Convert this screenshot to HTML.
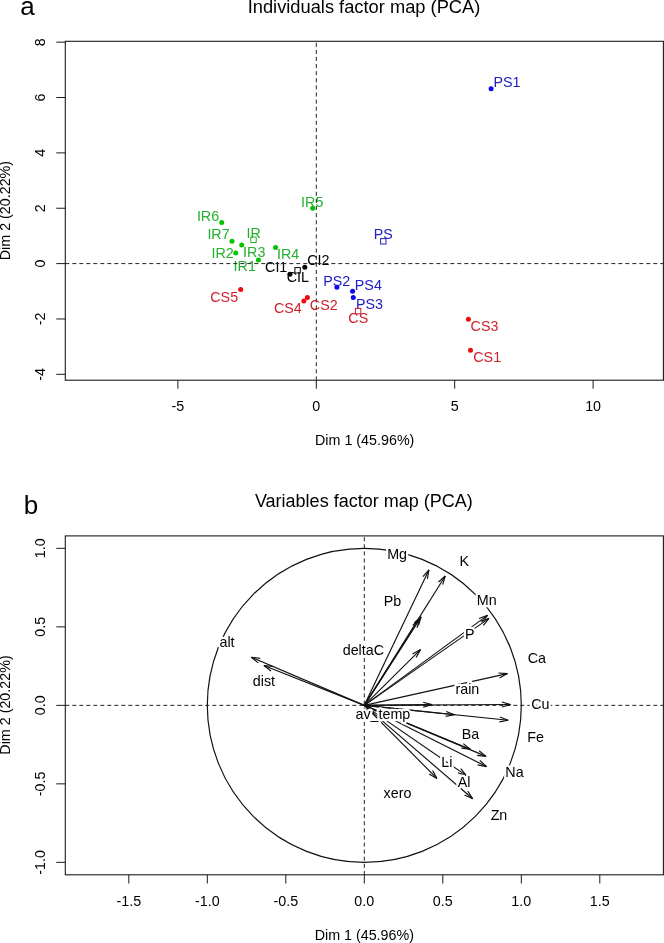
<!DOCTYPE html>
<html><head><meta charset="utf-8"><style>
html,body{margin:0;padding:0;background:#fff;width:664px;height:943px;overflow:hidden}
svg{display:block;will-change:transform;font-family:"Liberation Sans",sans-serif}
.h{paint-order:stroke;stroke:#fff;stroke-width:4.5px;stroke-linejoin:round}
</style></head><body>
<svg width="664" height="943" viewBox="0 0 664 943">
<rect width="664" height="943" fill="#fff"/>
<text x="20.30" y="14.90" fill="#000" font-size="26">a</text>
<text x="364" y="12.8" font-size="18.3" text-anchor="middle" fill="#000">Individuals factor map (PCA)</text>
<line x1="56.30" y1="42.16" x2="65.30" y2="42.16" stroke="#1a1a1a" stroke-width="1"/>
<text transform="translate(45.2 42.16) rotate(-90)" text-anchor="middle" font-size="14.3" fill="#000">8</text>
<line x1="56.30" y1="97.52" x2="65.30" y2="97.52" stroke="#1a1a1a" stroke-width="1"/>
<text transform="translate(45.2 97.52) rotate(-90)" text-anchor="middle" font-size="14.3" fill="#000">6</text>
<line x1="56.30" y1="152.88" x2="65.30" y2="152.88" stroke="#1a1a1a" stroke-width="1"/>
<text transform="translate(45.2 152.88) rotate(-90)" text-anchor="middle" font-size="14.3" fill="#000">4</text>
<line x1="56.30" y1="208.24" x2="65.30" y2="208.24" stroke="#1a1a1a" stroke-width="1"/>
<text transform="translate(45.2 208.24) rotate(-90)" text-anchor="middle" font-size="14.3" fill="#000">2</text>
<line x1="56.30" y1="263.60" x2="65.30" y2="263.60" stroke="#1a1a1a" stroke-width="1"/>
<text transform="translate(45.2 263.60) rotate(-90)" text-anchor="middle" font-size="14.3" fill="#000">0</text>
<line x1="56.30" y1="318.96" x2="65.30" y2="318.96" stroke="#1a1a1a" stroke-width="1"/>
<text transform="translate(45.2 318.96) rotate(-90)" text-anchor="middle" font-size="14.3" fill="#000">-2</text>
<line x1="56.30" y1="374.32" x2="65.30" y2="374.32" stroke="#1a1a1a" stroke-width="1"/>
<text transform="translate(45.2 374.32) rotate(-90)" text-anchor="middle" font-size="14.3" fill="#000">-4</text>
<line x1="177.90" y1="380.20" x2="177.90" y2="388.70" stroke="#1a1a1a" stroke-width="1"/>
<text x="177.90" y="411.2" text-anchor="middle" font-size="14.3" fill="#000">-5</text>
<line x1="316.30" y1="380.20" x2="316.30" y2="388.70" stroke="#1a1a1a" stroke-width="1"/>
<text x="316.30" y="411.2" text-anchor="middle" font-size="14.3" fill="#000">0</text>
<line x1="454.70" y1="380.20" x2="454.70" y2="388.70" stroke="#1a1a1a" stroke-width="1"/>
<text x="454.70" y="411.2" text-anchor="middle" font-size="14.3" fill="#000">5</text>
<line x1="593.10" y1="380.20" x2="593.10" y2="388.70" stroke="#1a1a1a" stroke-width="1"/>
<text x="593.10" y="411.2" text-anchor="middle" font-size="14.3" fill="#000">10</text>
<text x="364.7" y="444.9" text-anchor="middle" font-size="14.3" fill="#000">Dim 1 (45.96%)</text>
<text transform="translate(10.2 210.6) rotate(-90)" text-anchor="middle" font-size="14.3" fill="#000">Dim 2 (20.22%)</text>
<circle cx="221.7" cy="222.5" r="2.5" fill="#00c400"/>
<text x="196.88" y="220.70" fill="#23b030" font-size="14.3">IR6</text>
<circle cx="232.0" cy="241.3" r="2.5" fill="#00c400"/>
<text x="207.38" y="239.40" fill="#23b030" font-size="14.3">IR7</text>
<circle cx="241.7" cy="245.0" r="2.5" fill="#00c400"/>
<text x="243.08" y="256.80" fill="#23b030" font-size="14.3">IR3</text>
<circle cx="235.7" cy="252.9" r="2.5" fill="#00c400"/>
<text x="211.48" y="257.90" fill="#23b030" font-size="14.3">IR2</text>
<circle cx="258.4" cy="260.1" r="2.5" fill="#00c400"/>
<text x="233.58" y="271.40" fill="#23b030" font-size="14.3">IR1</text>
<circle cx="275.6" cy="247.6" r="2.5" fill="#00c400"/>
<text x="276.98" y="258.60" fill="#23b030" font-size="14.3">IR4</text>
<circle cx="312.7" cy="208.2" r="2.5" fill="#00c400"/>
<text x="301.08" y="206.50" fill="#23b030" font-size="14.3">IR5</text>
<rect x="250.80" y="237.10" width="5.4" height="5.4" fill="none" stroke="#23b030" stroke-width="1"/>
<text x="246.58" y="238.00" fill="#23b030" font-size="14.3">IR</text>
<circle cx="289.9" cy="274.3" r="2.5" fill="#000"/>
<text x="265.07" y="272.10" fill="#000" font-size="14.3">CI1</text>
<circle cx="304.8" cy="267.3" r="2.5" fill="#000"/>
<text x="307.27" y="265.20" fill="#000" font-size="14.3">CI2</text>
<rect x="294.90" y="267.60" width="5.4" height="5.4" fill="none" stroke="#000" stroke-width="1"/>
<text x="286.77" y="282.30" fill="#000" font-size="14.3">CIL</text>
<circle cx="491.1" cy="88.7" r="2.5" fill="#0a0ae6"/>
<text x="493.53" y="87.30" fill="#2020c6" font-size="14.3">PS1</text>
<circle cx="336.9" cy="287.3" r="2.5" fill="#0a0ae6"/>
<text x="323.23" y="285.50" fill="#2020c6" font-size="14.3">PS2</text>
<circle cx="352.6" cy="291.3" r="2.5" fill="#0a0ae6"/>
<text x="354.83" y="289.70" fill="#2020c6" font-size="14.3">PS4</text>
<circle cx="353.3" cy="297.5" r="2.5" fill="#0a0ae6"/>
<text x="356.03" y="309.30" fill="#2020c6" font-size="14.3">PS3</text>
<rect x="380.60" y="238.60" width="5.4" height="5.4" fill="none" stroke="#2020c6" stroke-width="1"/>
<text x="373.63" y="239.30" fill="#2020c6" font-size="14.3">PS</text>
<circle cx="240.7" cy="289.5" r="2.5" fill="#ee0a0a"/>
<text x="210.27" y="301.70" fill="#cf1f2b" font-size="14.3">CS5</text>
<circle cx="307.4" cy="297.6" r="2.5" fill="#ee0a0a"/>
<text x="309.87" y="309.80" fill="#cf1f2b" font-size="14.3">CS2</text>
<circle cx="303.9" cy="301.1" r="2.5" fill="#ee0a0a"/>
<text x="273.97" y="312.70" fill="#cf1f2b" font-size="14.3">CS4</text>
<circle cx="468.4" cy="319.3" r="2.5" fill="#ee0a0a"/>
<text x="470.57" y="331.00" fill="#cf1f2b" font-size="14.3">CS3</text>
<circle cx="470.5" cy="350.2" r="2.5" fill="#ee0a0a"/>
<text x="473.27" y="361.90" fill="#cf1f2b" font-size="14.3">CS1</text>
<rect x="355.40" y="308.40" width="5.4" height="5.4" fill="none" stroke="#cf1f2b" stroke-width="1"/>
<text x="348.37" y="322.80" fill="#cf1f2b" font-size="14.3">CS</text>
<line x1="65.30" y1="263.60" x2="663.40" y2="263.60" stroke="#222" stroke-width="1" stroke-dasharray="4 3"/>
<line x1="316.30" y1="41.30" x2="316.30" y2="380.20" stroke="#222" stroke-width="1" stroke-dasharray="4.1 3.0" stroke-dashoffset="-1.4"/>
<rect x="65.3" y="41.3" width="598.10" height="338.90" fill="none" stroke="#1a1a1a" stroke-width="1.1"/>
<text x="23.72" y="514.40" fill="#000" font-size="26">b</text>
<text x="363.8" y="506.7" font-size="18" text-anchor="middle" fill="#000">Variables factor map (PCA)</text>
<line x1="56.30" y1="548.35" x2="65.30" y2="548.35" stroke="#1a1a1a" stroke-width="1"/>
<text transform="translate(45.2 548.35) rotate(-90)" text-anchor="middle" font-size="14.3" fill="#000">1.0</text>
<line x1="56.30" y1="626.85" x2="65.30" y2="626.85" stroke="#1a1a1a" stroke-width="1"/>
<text transform="translate(45.2 626.85) rotate(-90)" text-anchor="middle" font-size="14.3" fill="#000">0.5</text>
<line x1="56.30" y1="705.35" x2="65.30" y2="705.35" stroke="#1a1a1a" stroke-width="1"/>
<text transform="translate(45.2 705.35) rotate(-90)" text-anchor="middle" font-size="14.3" fill="#000">0.0</text>
<line x1="56.30" y1="783.85" x2="65.30" y2="783.85" stroke="#1a1a1a" stroke-width="1"/>
<text transform="translate(45.2 783.85) rotate(-90)" text-anchor="middle" font-size="14.3" fill="#000">-0.5</text>
<line x1="56.30" y1="862.35" x2="65.30" y2="862.35" stroke="#1a1a1a" stroke-width="1"/>
<text transform="translate(45.2 862.35) rotate(-90)" text-anchor="middle" font-size="14.3" fill="#000">-1.0</text>
<line x1="128.80" y1="874.80" x2="128.80" y2="883.50" stroke="#1a1a1a" stroke-width="1"/>
<text x="128.80" y="905.5" text-anchor="middle" font-size="14.3" fill="#000">-1.5</text>
<line x1="207.30" y1="874.80" x2="207.30" y2="883.50" stroke="#1a1a1a" stroke-width="1"/>
<text x="207.30" y="905.5" text-anchor="middle" font-size="14.3" fill="#000">-1.0</text>
<line x1="285.80" y1="874.80" x2="285.80" y2="883.50" stroke="#1a1a1a" stroke-width="1"/>
<text x="285.80" y="905.5" text-anchor="middle" font-size="14.3" fill="#000">-0.5</text>
<line x1="364.30" y1="874.80" x2="364.30" y2="883.50" stroke="#1a1a1a" stroke-width="1"/>
<text x="364.30" y="905.5" text-anchor="middle" font-size="14.3" fill="#000">0.0</text>
<line x1="442.80" y1="874.80" x2="442.80" y2="883.50" stroke="#1a1a1a" stroke-width="1"/>
<text x="442.80" y="905.5" text-anchor="middle" font-size="14.3" fill="#000">0.5</text>
<line x1="521.30" y1="874.80" x2="521.30" y2="883.50" stroke="#1a1a1a" stroke-width="1"/>
<text x="521.30" y="905.5" text-anchor="middle" font-size="14.3" fill="#000">1.0</text>
<line x1="599.80" y1="874.80" x2="599.80" y2="883.50" stroke="#1a1a1a" stroke-width="1"/>
<text x="599.80" y="905.5" text-anchor="middle" font-size="14.3" fill="#000">1.5</text>
<text x="364.3" y="939.6" text-anchor="middle" font-size="14.3" fill="#000">Dim 1 (45.96%)</text>
<text transform="translate(10.2 705.0) rotate(-90)" text-anchor="middle" font-size="14.3" fill="#000">Dim 2 (20.22%)</text>
<line x1="65.30" y1="705.35" x2="663.40" y2="705.35" stroke="#222" stroke-width="1" stroke-dasharray="4 3"/>
<line x1="364.30" y1="535.90" x2="364.30" y2="874.80" stroke="#222" stroke-width="1" stroke-dasharray="4.1 3.0" stroke-dashoffset="-1.3"/>
<circle cx="364.3" cy="705.35" r="157.0" fill="none" stroke="#111" stroke-width="1.2"/>
<line x1="364.30" y1="705.35" x2="428.90" y2="569.90" stroke="#111" stroke-width="1.15"/>
<line x1="428.90" y1="569.90" x2="422.94" y2="576.64" stroke="#111" stroke-width="1.15"/>
<line x1="428.90" y1="569.90" x2="427.41" y2="578.78" stroke="#111" stroke-width="1.15"/>
<line x1="364.30" y1="705.35" x2="445.20" y2="576.00" stroke="#111" stroke-width="1.15"/>
<line x1="445.20" y1="576.00" x2="438.51" y2="582.02" stroke="#111" stroke-width="1.15"/>
<line x1="445.20" y1="576.00" x2="442.72" y2="584.65" stroke="#111" stroke-width="1.15"/>
<line x1="364.30" y1="705.35" x2="421.10" y2="616.80" stroke="#111" stroke-width="1.15"/>
<line x1="421.10" y1="616.80" x2="414.34" y2="622.74" stroke="#111" stroke-width="1.15"/>
<line x1="421.10" y1="616.80" x2="418.52" y2="625.42" stroke="#111" stroke-width="1.15"/>
<line x1="364.30" y1="705.35" x2="419.60" y2="619.30" stroke="#111" stroke-width="1.15"/>
<line x1="419.60" y1="619.30" x2="412.84" y2="625.24" stroke="#111" stroke-width="1.15"/>
<line x1="419.60" y1="619.30" x2="417.01" y2="627.92" stroke="#111" stroke-width="1.15"/>
<line x1="364.30" y1="705.35" x2="420.50" y2="649.60" stroke="#111" stroke-width="1.15"/>
<line x1="420.50" y1="649.60" x2="412.61" y2="653.93" stroke="#111" stroke-width="1.15"/>
<line x1="420.50" y1="649.60" x2="416.11" y2="657.45" stroke="#111" stroke-width="1.15"/>
<line x1="364.30" y1="705.35" x2="487.50" y2="615.40" stroke="#111" stroke-width="1.15"/>
<line x1="487.50" y1="615.40" x2="479.05" y2="618.50" stroke="#111" stroke-width="1.15"/>
<line x1="487.50" y1="615.40" x2="481.98" y2="622.51" stroke="#111" stroke-width="1.15"/>
<line x1="364.30" y1="705.35" x2="489.00" y2="618.40" stroke="#111" stroke-width="1.15"/>
<line x1="489.00" y1="618.40" x2="480.48" y2="621.31" stroke="#111" stroke-width="1.15"/>
<line x1="489.00" y1="618.40" x2="483.32" y2="625.38" stroke="#111" stroke-width="1.15"/>
<line x1="364.30" y1="705.35" x2="507.40" y2="673.60" stroke="#111" stroke-width="1.15"/>
<line x1="507.40" y1="673.60" x2="498.42" y2="673.05" stroke="#111" stroke-width="1.15"/>
<line x1="507.40" y1="673.60" x2="499.49" y2="677.90" stroke="#111" stroke-width="1.15"/>
<line x1="364.30" y1="705.35" x2="431.80" y2="704.60" stroke="#111" stroke-width="1.15"/>
<line x1="431.80" y1="704.60" x2="423.12" y2="702.22" stroke="#111" stroke-width="1.15"/>
<line x1="431.80" y1="704.60" x2="423.18" y2="707.18" stroke="#111" stroke-width="1.15"/>
<line x1="364.30" y1="705.35" x2="510.60" y2="704.50" stroke="#111" stroke-width="1.15"/>
<line x1="510.60" y1="704.50" x2="501.93" y2="702.07" stroke="#111" stroke-width="1.15"/>
<line x1="510.60" y1="704.50" x2="501.96" y2="707.03" stroke="#111" stroke-width="1.15"/>
<line x1="364.30" y1="705.35" x2="454.50" y2="714.80" stroke="#111" stroke-width="1.15"/>
<line x1="454.50" y1="714.80" x2="446.15" y2="711.43" stroke="#111" stroke-width="1.15"/>
<line x1="454.50" y1="714.80" x2="445.64" y2="716.37" stroke="#111" stroke-width="1.15"/>
<line x1="364.30" y1="705.35" x2="508.20" y2="720.30" stroke="#111" stroke-width="1.15"/>
<line x1="508.20" y1="720.30" x2="499.85" y2="716.94" stroke="#111" stroke-width="1.15"/>
<line x1="508.20" y1="720.30" x2="499.34" y2="721.87" stroke="#111" stroke-width="1.15"/>
<line x1="364.30" y1="705.35" x2="470.30" y2="749.20" stroke="#111" stroke-width="1.15"/>
<line x1="470.30" y1="749.20" x2="463.25" y2="743.60" stroke="#111" stroke-width="1.15"/>
<line x1="470.30" y1="749.20" x2="461.36" y2="748.19" stroke="#111" stroke-width="1.15"/>
<line x1="364.30" y1="705.35" x2="486.10" y2="756.40" stroke="#111" stroke-width="1.15"/>
<line x1="486.10" y1="756.40" x2="479.08" y2="750.77" stroke="#111" stroke-width="1.15"/>
<line x1="486.10" y1="756.40" x2="477.16" y2="755.34" stroke="#111" stroke-width="1.15"/>
<line x1="364.30" y1="705.35" x2="486.50" y2="766.60" stroke="#111" stroke-width="1.15"/>
<line x1="486.50" y1="766.60" x2="479.88" y2="760.51" stroke="#111" stroke-width="1.15"/>
<line x1="486.50" y1="766.60" x2="477.65" y2="764.94" stroke="#111" stroke-width="1.15"/>
<line x1="364.30" y1="705.35" x2="466.40" y2="775.60" stroke="#111" stroke-width="1.15"/>
<line x1="466.40" y1="775.60" x2="460.68" y2="768.65" stroke="#111" stroke-width="1.15"/>
<line x1="466.40" y1="775.60" x2="457.87" y2="772.74" stroke="#111" stroke-width="1.15"/>
<line x1="364.30" y1="705.35" x2="436.90" y2="778.40" stroke="#111" stroke-width="1.15"/>
<line x1="436.90" y1="778.40" x2="432.56" y2="770.51" stroke="#111" stroke-width="1.15"/>
<line x1="436.90" y1="778.40" x2="429.04" y2="774.01" stroke="#111" stroke-width="1.15"/>
<line x1="364.30" y1="705.35" x2="472.70" y2="798.70" stroke="#111" stroke-width="1.15"/>
<line x1="472.70" y1="798.70" x2="467.76" y2="791.17" stroke="#111" stroke-width="1.15"/>
<line x1="472.70" y1="798.70" x2="464.53" y2="794.93" stroke="#111" stroke-width="1.15"/>
<line x1="364.30" y1="705.35" x2="251.30" y2="657.20" stroke="#111" stroke-width="1.15"/>
<line x1="251.30" y1="657.20" x2="258.29" y2="662.87" stroke="#111" stroke-width="1.15"/>
<line x1="251.30" y1="657.20" x2="260.23" y2="658.31" stroke="#111" stroke-width="1.15"/>
<line x1="364.30" y1="705.35" x2="263.90" y2="665.50" stroke="#111" stroke-width="1.15"/>
<line x1="263.90" y1="665.50" x2="271.03" y2="671.00" stroke="#111" stroke-width="1.15"/>
<line x1="263.90" y1="665.50" x2="272.86" y2="666.39" stroke="#111" stroke-width="1.15"/>
<line x1="364.30" y1="705.35" x2="373.50" y2="712.50" stroke="#111" stroke-width="1.15"/>
<line x1="373.50" y1="712.50" x2="368.19" y2="705.23" stroke="#111" stroke-width="1.15"/>
<line x1="373.50" y1="712.50" x2="365.15" y2="709.15" stroke="#111" stroke-width="1.15"/>
<text x="387.13" y="558.50" fill="#000" font-size="14.3" class="h">Mg</text>
<text x="459.43" y="565.70" fill="#000" font-size="14.3" class="h">K</text>
<text x="383.73" y="605.50" fill="#000" font-size="14.3" class="h">Pb</text>
<text x="476.83" y="605.10" fill="#000" font-size="14.3" class="h">Mn</text>
<text x="464.93" y="639.40" fill="#000" font-size="14.3" class="h">P</text>
<text x="342.70" y="654.50" fill="#000" font-size="14.3" class="h">deltaC</text>
<text x="527.77" y="663.00" fill="#000" font-size="14.3" class="h">Ca</text>
<text x="219.49" y="647.00" fill="#000" font-size="14.3" class="h">alt</text>
<text x="252.80" y="686.30" fill="#000" font-size="14.3" class="h">dist</text>
<text x="455.45" y="693.50" fill="#000" font-size="14.3" class="h">rain</text>
<text x="531.27" y="709.00" fill="#000" font-size="14.3" class="h">Cu</text>
<text x="355.49" y="718.70" fill="#000" font-size="14.3" class="h">av_temp</text>
<text x="527.23" y="741.70" fill="#000" font-size="14.3" class="h">Fe</text>
<text x="461.83" y="739.00" fill="#000" font-size="14.3" class="h">Ba</text>
<text x="441.23" y="766.60" fill="#000" font-size="14.3" class="h">Li</text>
<text x="505.33" y="776.60" fill="#000" font-size="14.3" class="h">Na</text>
<text x="457.67" y="786.80" fill="#000" font-size="14.3" class="h">Al</text>
<text x="383.54" y="797.60" fill="#000" font-size="14.3" class="h">xero</text>
<text x="490.65" y="820.00" fill="#000" font-size="14.3" class="h">Zn</text>
<rect x="65.3" y="535.9" width="598.10" height="338.90" fill="none" stroke="#1a1a1a" stroke-width="1.1"/>
</svg></body></html>
